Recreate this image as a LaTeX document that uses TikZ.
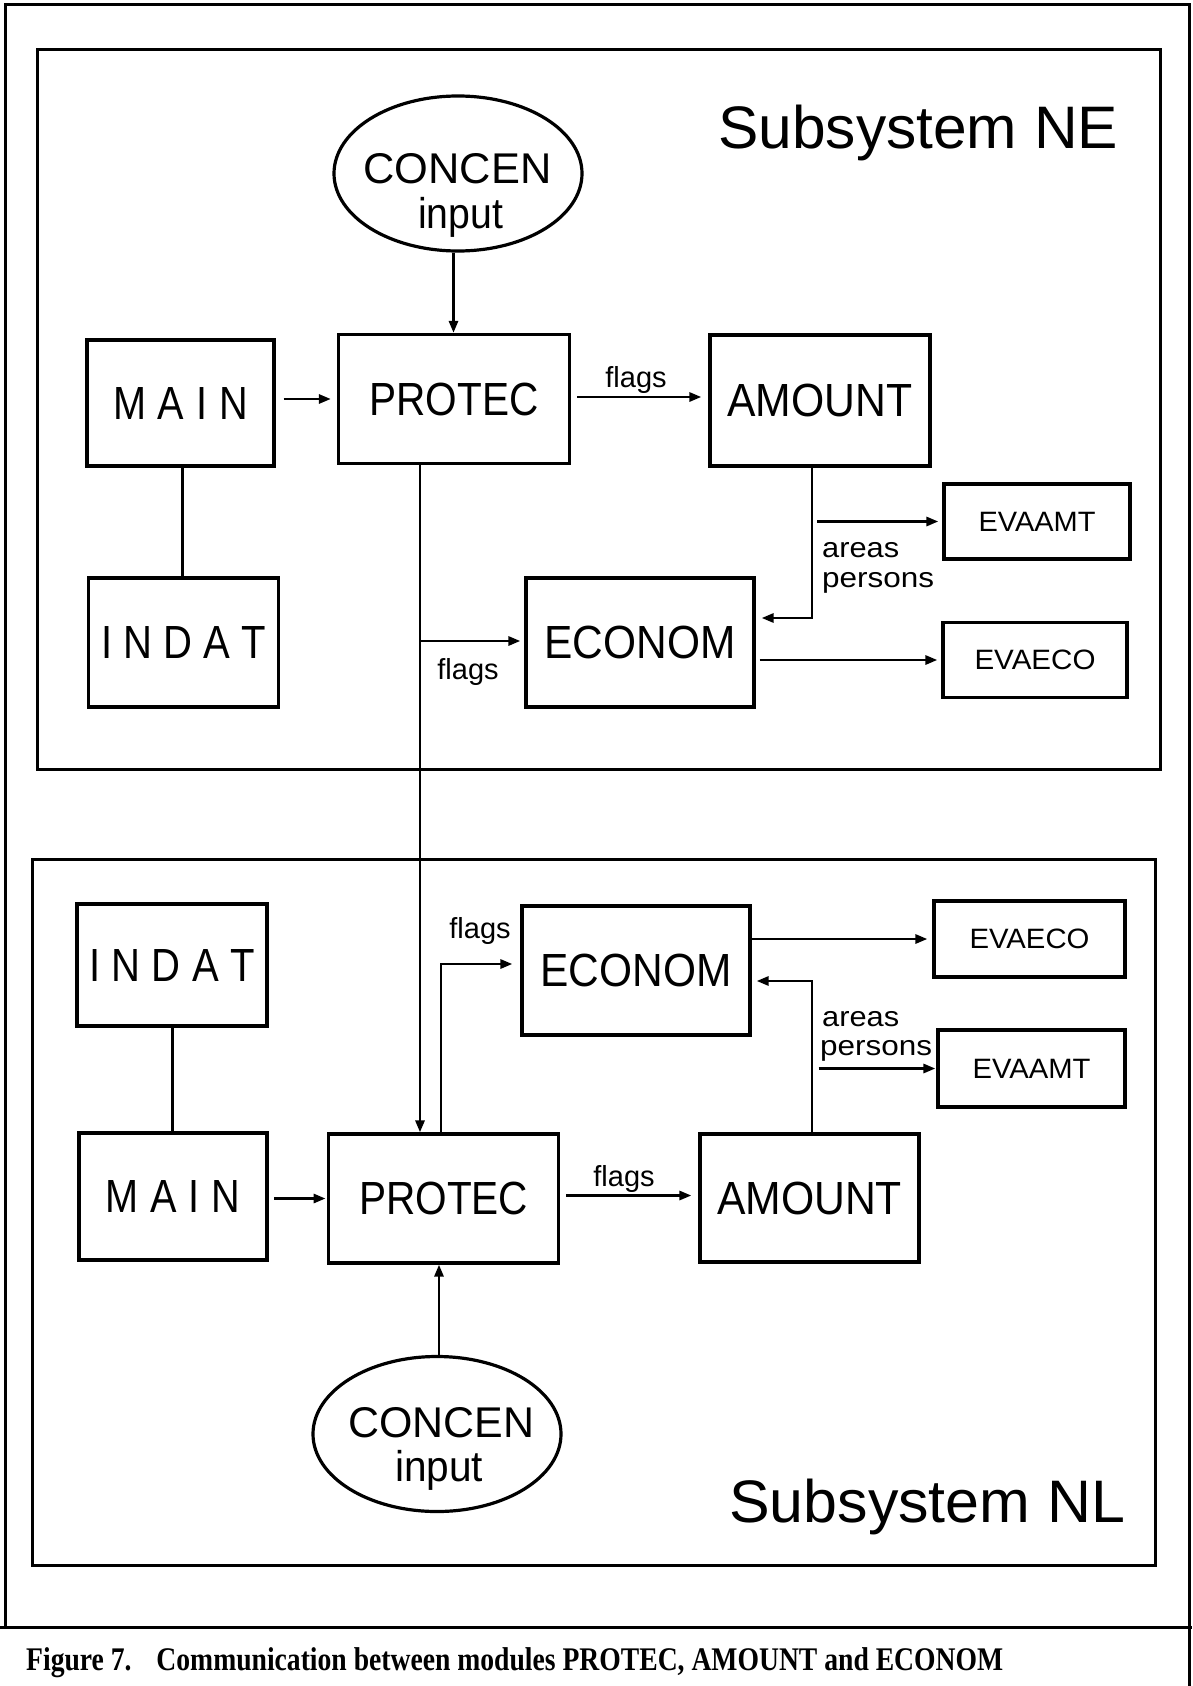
\documentclass[tikz,border=0pt]{standalone}
\usepackage{fontspec}
\usepackage{graphicx}
\setmainfont{Liberation Sans}
\newfontfamily\capfont{Liberation Serif}
\usetikzlibrary{arrows.meta,calc,shapes.geometric}
\newcommand\fitw[2]{\resizebox{#1}{\height}{#2}}
\newcommand\mainlbl{\fitw{135pt}{M\kern14pt A\kern14pt I\kern14pt N}}
\newcommand\indatlbl{\fitw{165pt}{I\kern13pt N\kern13pt D\kern13pt A\kern13pt T}}
\begin{document}
\begin{tikzpicture}[x=1pt,y=-1pt,
  frame/.style={line width=3pt},
  box/.style={draw,line width=3.2pt,inner sep=0pt},
  ell/.style={draw,ellipse,line width=3.2pt,inner sep=0pt,minimum width=248pt,minimum height=155pt},
  big/.style={font=\fontsize{46.5}{50}\selectfont},
  mid/.style={font=\fontsize{43}{46}\selectfont},
  sml/.style={font=\fontsize{28}{30}\selectfont},
  lbl/.style={font=\fontsize{29}{31}\selectfont,inner sep=0pt},
  ttl/.style={font=\fontsize{60}{64}\selectfont,inner sep=0pt,anchor=base west},
  ln/.style={line width=3pt},
  arr/.style={line width=2.8pt,-{Triangle[length=12pt,width=9pt]}}]
\useasboundingbox (0,0) rectangle (1192,1686);
\fill[white] (0,0) rectangle (1192,1686);
% outer frame and caption rule
\draw[frame] (5,1627) -- (5,5) -- (1189,5) -- (1189,1686);
\draw[frame] (0,1627) -- (1192,1627);
% subsystem frames
\draw[frame] (37,50) rectangle (1160,769);
\draw[frame] (32,859) rectangle (1155,1565);
\node[ttl] (tne) at (718,148) {\fitw{400pt}{Subsystem NE}};
\node[ttl] (tnl) at (729,1522) {\fitw{396pt}{Subsystem NL}};
% ---------- Subsystem NE ----------
\node[ell] (cne) at (458,173.5) {};
\node[mid,anchor=base,inner sep=0pt] (cnea) at (457.5,183) {\fitw{188pt}{CONCEN}};
\node[mid,anchor=base,inner sep=0pt] (cneb) at (460.5,228) {\fitw{85pt}{input}};
\node[box,big,minimum width=187pt,minimum height=126pt] (mne) at (180.5,403) {\mainlbl};
\node[box,big,minimum width=231pt,minimum height=129pt] (pne) at (454,399) {\fitw{169pt}{PROTEC}};
\node[box,big,minimum width=220pt,minimum height=131pt] (ane) at (820,400.5) {\fitw{185pt}{AMOUNT}};
\node[box,big,minimum width=190pt,minimum height=129pt] (ine) at (183.5,642.5) {\indatlbl};
\node[box,big,minimum width=228pt,minimum height=129pt] (ene) at (640,642.5) {\fitw{191pt}{ECONOM}};
\node[box,sml,minimum width=186pt,minimum height=75pt] (vane) at (1037,521.5) {\fitw{117pt}{EVAAMT}};
\node[box,sml,minimum width=184pt,minimum height=75pt] (vene) at (1035,660) {\fitw{121pt}{EVAECO}};
% ---------- Subsystem NL nodes ----------
\node[box,big,minimum width=190pt,minimum height=122pt] (inl) at (172,965) {\indatlbl};
\node[box,big,minimum width=188pt,minimum height=127pt] (mnl) at (173,1196.5) {\mainlbl};
\node[box,big,minimum width=230pt,minimum height=129pt] (pnl) at (443.7,1198.5) {\fitw{169pt}{PROTEC}};
\node[box,big,minimum width=219pt,minimum height=128pt] (anl) at (809.5,1198) {\fitw{185pt}{AMOUNT}};
\node[box,big,minimum width=228pt,minimum height=129pt] (enl) at (636,970.5) {\fitw{191pt}{ECONOM}};
\node[box,sml,minimum width=191pt,minimum height=76pt] (venl) at (1029.5,939) {\fitw{120pt}{EVAECO}};
\node[box,sml,minimum width=187pt,minimum height=77pt] (vanl) at (1031.5,1068.5) {\fitw{118pt}{EVAAMT}};
\node[ell] (cnl) at (437,1434) {};
\node[mid,anchor=base,inner sep=0pt] (cnla) at (441.5,1437) {\fitw{186pt}{CONCEN}};
\node[mid,anchor=base,inner sep=0pt] (cnlb) at (439,1481) {\fitw{88pt}{input}};
% ---------- NE connectors ----------
\coordinate (vx) at (420,0);
\coordinate (brne) at (420,641);
\coordinate (cne2) at (812,618);
\draw[arr] ([xshift=-4.5pt]cne.south) -- ([xshift=-4.5pt]cne.south |- pne.north);
\draw[arr] ([xshift=8pt]mne.east |- pne.west) -- ([xshift=-6pt]pne.west);
\draw[arr] ([xshift=6pt,yshift=2pt]pne.east) -- ([xshift=-7pt,yshift=2pt]ane.west |- pne.east);
\node[lbl,anchor=base] (fne1) at (636,387) {flags};
\draw[ln] ([xshift=1.5pt]mne.south) -- ([xshift=1.5pt]mne.south |- ine.north);
\draw[arr] (pne.south -| vx) -- (pnl.north -| vx);
\draw[arr] (brne) -- ([xshift=-4pt]ene.west |- brne);
\node[lbl,anchor=base] (fne2) at (468,679) {flags};
\draw[arr] (ane.south -| cne2) -- (cne2) -- ([xshift=6pt]ene.east |- cne2);
\draw[arr] ([xshift=5pt]cne2 |- vane.west) -- ([xshift=-4pt]vane.west);
\draw[arr] ([xshift=4pt]ene.east |- vene.west) -- ([xshift=-4pt]vene.west);
\node[sml,anchor=base west,inner sep=0pt] (arne) at (822,557) {\fitw{77pt}{areas}};
\node[sml,anchor=base west,inner sep=0pt] (pene) at (822,587) {\fitw{112pt}{persons}};
% ---------- NL connectors ----------
\coordinate (brnl) at (441,964);
\coordinate (cnl2) at (812,981);
\draw[ln] (inl.south) -- (inl.south |- mnl.north);
\draw[arr] ([xshift=5.5pt]mnl.east |- pnl.west) -- ([xshift=-1.5pt]pnl.west);
\draw[arr] (pnl.north -| brnl) -- (brnl) -- ([xshift=-8pt]enl.west |- brnl);
\node[lbl,anchor=base] (fnl1) at (480,938) {flags};
\draw[arr] ([xshift=2pt]cnl.north) -- ([xshift=2pt]cnl.north |- pnl.south);
\draw[arr] ([xshift=6pt,yshift=3pt]pnl.east) -- ([xshift=-7pt,yshift=3pt]anl.west |- pnl.east);
\node[lbl,anchor=base] (fnl2) at (624,1186) {flags};
\draw[arr] (anl.north -| cnl2) -- (cnl2) -- ([xshift=5pt]enl.east |- cnl2);
\draw[arr] ([xshift=6.5pt]cnl2 |- vanl.west) -- ([xshift=-1pt]vanl.west);
\draw[arr] (enl.east |- venl.west) -- ([xshift=-5pt]venl.west);
\node[sml,anchor=base west,inner sep=0pt] (arnl) at (822,1026.5) {\fitw{77pt}{areas}};
\node[sml,anchor=base west,inner sep=0pt] (penl) at (820,1055) {\fitw{112pt}{persons}};
% caption
\node[anchor=base west,inner sep=0pt,font=\capfont\bfseries\fontsize{33}{36}\selectfont] (cap) at (26,1670)
  {\fitw{977pt}{Figure 7.\hspace{0.9em}Communication between modules PROTEC, AMOUNT and ECONOM}};
\end{tikzpicture}
\end{document}
